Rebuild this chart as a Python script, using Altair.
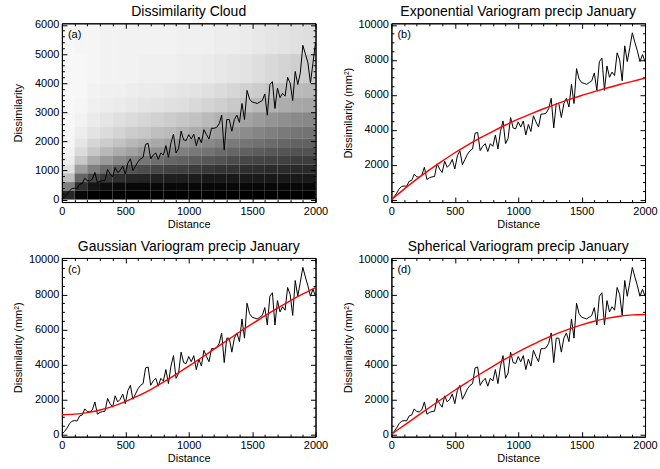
import altair as alt
import pandas as pd

FONT = "Liberation Sans"

# ---------------- data ----------------
lags = [0, 20, 40, 60, 80, 100, 120, 140, 160, 180,
        200, 220, 240, 260, 280, 300, 320, 340, 360, 380,
        400, 420, 440, 460, 480, 500, 520, 540, 560, 580,
        600, 620, 640, 660, 680, 700, 720, 740, 760, 780,
        800, 820, 840, 860, 880, 900, 920, 940, 960, 980,
        1000, 1020, 1040, 1060, 1080, 1100, 1120, 1140, 1160, 1180,
        1200, 1220, 1240, 1260, 1280, 1300, 1320, 1340, 1360, 1380,
        1400, 1420, 1440, 1460, 1480, 1500, 1520, 1540, 1560, 1580,
        1600, 1620, 1640, 1660, 1680, 1700, 1720, 1740, 1760, 1780,
        1800, 1820, 1840, 1860, 1880, 1900, 1920, 1940, 1960, 1980,
        2000]

# empirical variogram (panels b, c, d)
gamma_emp = [0, 150, 350, 600, 750, 780, 760, 1050, 1100, 1450,
             1300, 1280, 1400, 1850, 1150, 1250, 1300, 1320, 2050, 1750,
             1550, 2200, 1850, 2000, 2300, 1750, 2500, 2800, 2000, 2300,
             2600, 2800, 2900, 3800, 3850, 2800, 3050, 3200, 2750, 3200,
             3050, 3700, 2900, 3900, 4500, 3200, 3500, 4700, 4100, 4050,
             4450, 4150, 4500, 3700, 4300, 3900, 4800, 4450, 4150, 4900,
             4900, 4950, 5200, 5800, 4100, 5500, 5500, 4700, 5500, 5800,
             5300, 6600, 5500, 7500, 6900, 6700, 6650, 6600, 6700, 6800,
             7250, 6250, 7900, 8100, 6250, 7650, 7000, 7300, 7100, 8400,
             8000, 6800, 8800, 7900, 8700, 9550, 9000, 8500, 7900, 8300,
             7900]

# mean dissimilarity line drawn over the cloud (panel a)
gamma_cloud_mean = [0, 80, 180, 300, 380, 390, 380, 530, 550, 730,
                    650, 640, 700, 930, 580, 630, 650, 660, 1030, 880,
                    780, 1100, 930, 1000, 1150, 880, 1250, 1400, 1000, 1150,
                    1300, 1400, 1450, 1900, 1930, 1400, 1530, 1600, 1380, 1600,
                    1530, 1850, 1450, 1950, 2250, 1600, 1750, 2350, 2050, 2030,
                    2230, 2080, 2250, 1850, 2150, 1950, 2400, 2230, 2080, 2450,
                    2450, 2480, 2600, 2900, 1700, 2750, 2750, 2350, 2750, 2900,
                    2650, 3300, 2750, 3750, 3450, 3350, 3330, 3300, 3350, 3400,
                    3630, 2900, 3950, 4050, 3130, 3830, 3500, 3650, 3550, 4200,
                    4000, 3400, 4400, 3950, 4350, 5300, 5000, 4700, 4000, 4700,
                    5400]

# fitted model curves (red)
model_h = [0, 100, 200, 300, 400, 500, 600, 700, 800, 900, 1000,
           1100, 1200, 1300, 1400, 1500, 1600, 1700, 1800, 1900, 2000]
model_exp = [0, 600, 1170, 1700, 2200, 2680, 3120, 3530, 3910, 4270, 4600,
             4910, 5200, 5470, 5720, 5960, 6180, 6390, 6590, 6770, 6950]
model_gau = [1120, 1150, 1240, 1390, 1600, 1870, 2190, 2560, 2980, 3430, 3900,
             4380, 4870, 5360, 5850, 6320, 6780, 7220, 7640, 8030, 8400]
model_sph = [0, 510, 1020, 1530, 2030, 2520, 2990, 3450, 3890, 4310, 4710,
             5080, 5430, 5740, 6020, 6260, 6470, 6630, 6750, 6830, 6850]

# dissimilarity cloud, read as a density of dots per cell
cloud_x_edges = [0, 100, 200, 300, 400, 500, 600, 700, 800, 900, 1000,
                 1100, 1200, 1300, 1400, 1500, 1600, 1700, 1800, 1900, 2000]
cloud_y_edges = [0, 300, 600, 900, 1200, 1500, 1800, 2100, 2500, 3000, 3500, 4000, 5000, 6000]
cloud_density = [
    [0.85, 0.97, 1, 1, 1, 1, 1, 1, 1, 1, 1, 1, 1, 1, 1, 1, 1, 1, 1, 1],
    [0.5, 0.82, 0.92, 0.95, 0.96, 0.97, 0.97, 0.97, 0.97, 0.97, 0.97, 0.97, 0.97, 0.97, 0.97, 0.97, 0.97, 0.97, 0.97, 0.97],
    [0.25, 0.6, 0.72, 0.78, 0.82, 0.85, 0.86, 0.87, 0.88, 0.88, 0.89, 0.9, 0.9, 0.9, 0.9, 0.9, 0.9, 0.9, 0.9, 0.9],
    [0.12, 0.38, 0.5, 0.58, 0.64, 0.68, 0.7, 0.72, 0.74, 0.75, 0.77, 0.78, 0.8, 0.8, 0.82, 0.82, 0.83, 0.83, 0.84, 0.84],
    [0.07, 0.22, 0.33, 0.4, 0.46, 0.5, 0.54, 0.57, 0.6, 0.62, 0.64, 0.66, 0.68, 0.7, 0.72, 0.73, 0.74, 0.75, 0.76, 0.76],
    [0.05, 0.14, 0.22, 0.28, 0.33, 0.37, 0.41, 0.44, 0.47, 0.5, 0.53, 0.55, 0.58, 0.6, 0.62, 0.64, 0.66, 0.67, 0.68, 0.68],
    [0.04, 0.1, 0.16, 0.2, 0.24, 0.28, 0.31, 0.34, 0.37, 0.4, 0.43, 0.46, 0.49, 0.52, 0.54, 0.56, 0.58, 0.6, 0.61, 0.62],
    [0.03, 0.07, 0.11, 0.14, 0.17, 0.2, 0.22, 0.25, 0.27, 0.3, 0.33, 0.36, 0.39, 0.42, 0.45, 0.48, 0.5, 0.52, 0.54, 0.55],
    [0.03, 0.05, 0.08, 0.1, 0.12, 0.14, 0.16, 0.18, 0.2, 0.22, 0.24, 0.27, 0.3, 0.33, 0.36, 0.39, 0.42, 0.44, 0.46, 0.47],
    [0.03, 0.04, 0.06, 0.07, 0.08, 0.09, 0.1, 0.11, 0.12, 0.13, 0.15, 0.17, 0.19, 0.21, 0.24, 0.27, 0.3, 0.32, 0.34, 0.35],
    [0.03, 0.03, 0.05, 0.06, 0.06, 0.07, 0.08, 0.08, 0.09, 0.1, 0.11, 0.12, 0.14, 0.16, 0.18, 0.2, 0.23, 0.25, 0.27, 0.28],
    [0.03, 0.03, 0.04, 0.05, 0.05, 0.05, 0.06, 0.06, 0.06, 0.07, 0.07, 0.08, 0.09, 0.1, 0.11, 0.13, 0.15, 0.17, 0.19, 0.2],
    [0.03, 0.04, 0.04, 0.05, 0.05, 0.05, 0.05, 0.05, 0.05, 0.06, 0.06, 0.06, 0.07, 0.07, 0.08, 0.09, 0.1, 0.11, 0.12, 0.13],
]

titles = ["Dissimilarity Cloud",
          "Exponential Variogram precip January",
          "Gaussian Variogram precip January",
          "Spherical Variogram precip January"]
panel_tags = ["(a)", "(b)", "(c)", "(d)"]
y_titles = ["Dissimilarity", "Dissimilarity (mm\u00b2)"]

x_ticks = list(range(0, 2001, 100))
ya_ticks = list(range(0, 6001, 200))
yb_ticks = list(range(0, 10001, 500))

# ---------------- tables ----------------
df_emp = pd.DataFrame({"lag": lags, "gamma": gamma_emp})
df_mean = pd.DataFrame({"lag": lags, "gamma": gamma_cloud_mean})
df_model = pd.DataFrame({"h": model_h, "exp": model_exp, "gau": model_gau, "sph": model_sph})
rows = []
for i in range(len(cloud_y_edges) - 1):
    for j in range(len(cloud_x_edges) - 1):
        rows.append({"x0": cloud_x_edges[j], "x1": cloud_x_edges[j + 1],
                     "y0": cloud_y_edges[i], "y1": cloud_y_edges[i + 1],
                     "density": cloud_density[i][j]})
df_cloud = pd.DataFrame(rows)

W, H = 254, 179
xs = alt.Scale(domain=[0, 2000], nice=False, zero=False)
ys_a = alt.Scale(domain=[-85, 6055], nice=False, zero=False)
ys_b = alt.Scale(domain=[-140, 10090], nice=False, zero=False)


def xaxis(orient, show):
    d = dict(orient=orient, values=x_ticks, grid=False, domainColor="black", domainWidth=1,
             tickColor="black", tickWidth=1,
             tickSize=alt.ExprRef("datum.value % 500 === 0 ? -5 : -2.5"),
             labels=show, title=None)
    if show:
        d.update(format="d", labelExpr="datum.value % 500 === 0 ? datum.label : ''",
                 labelFont=FONT, labelFontSize=11, labelColor="black", labelPadding=8,
                 labelFlush=False, labelOverlap=False,
                 title="Distance", titleFont=FONT, titleFontSize=11, titleFontWeight="normal",
                 titleColor="black", titleY=16)
    return alt.Axis(**d)


def yaxis(orient, show, vals, major, title=None):
    d = dict(orient=orient, values=vals, grid=False, domainColor="black", domainWidth=1,
             tickColor="black", tickWidth=1,
             tickSize=alt.ExprRef(f"datum.value % {major} === 0 ? -5 : -2.5"),
             labels=show, title=None)
    if show:
        d.update(format="d", labelExpr=f"datum.value % {major} === 0 ? datum.label : ''",
                 labelFont=FONT, labelFontSize=11, labelColor="black", labelPadding=8,
                 labelFlush=False, labelOverlap=False,
                 title=title, titleFont=FONT, titleFontSize=11, titleFontWeight="normal",
                 titleColor="black", titleX=-38)
    return alt.Axis(**d)


def tag(i):
    return alt.Chart(pd.DataFrame({"tag": [panel_tags[i]]})).mark_text(
        align="left", baseline="middle", font=FONT, fontSize=11, color="black"
    ).encode(text="tag:N", x=alt.value(6), y=alt.value(12))


def ptitle(i):
    return alt.TitleParams(titles[i], font=FONT, fontSize=14, fontWeight="normal",
                           color="black", anchor="middle", frame="group", offset=0)


# panel (a)
cloud = alt.Chart(df_cloud).mark_rect(color="black", strokeWidth=0).encode(
    x=alt.X("x0:Q", scale=xs, axis=xaxis("bottom", True)),
    x2="x1",
    y=alt.Y("y0:Q", scale=ys_a, axis=yaxis("left", True, ya_ticks, 1000, y_titles[0])),
    y2="y1",
    opacity=alt.Opacity("density:Q", scale=None, legend=None),
)
line_a = alt.Chart(df_mean).mark_line(color="black", strokeWidth=1).encode(
    x=alt.X("lag:Q", scale=xs, axis=xaxis("top", False)),
    y=alt.Y("gamma:Q", scale=ys_a, axis=yaxis("right", False, ya_ticks, 1000)),
)
pa = alt.layer(cloud, line_a, tag(0)).resolve_axis(x="independent", y="independent").properties(
    width=W, height=H, title=ptitle(0))


def vpanel(i, col):
    emp = alt.Chart(df_emp).mark_line(color="black", strokeWidth=1).encode(
        x=alt.X("lag:Q", scale=xs, axis=xaxis("bottom", True)),
        y=alt.Y("gamma:Q", scale=ys_b, axis=yaxis("left", True, yb_ticks, 2000, y_titles[1])),
    )
    mod = alt.Chart(df_model).mark_line(color="#ff0000", strokeWidth=1.4, interpolate="monotone").encode(
        x=alt.X("h:Q", scale=xs, axis=xaxis("top", False)),
        y=alt.Y(f"{col}:Q", scale=ys_b, axis=yaxis("right", False, yb_ticks, 2000)),
    )
    return alt.layer(emp, mod, tag(i)).resolve_axis(x="independent", y="independent").properties(
        width=W, height=H, title=ptitle(i))


pb = vpanel(1, "exp")
pc = vpanel(2, "gau")
pd_ = vpanel(3, "sph")

chart = alt.concat(
    pa, pb, pc, pd_, columns=2, spacing={"row": 56, "column": 76}, bounds="flush",
).properties(
    padding={"left": 12, "top": 4, "right": 2, "bottom": 2},
    background="white",
).configure_view(stroke="black", strokeWidth=1)

chart.save("out.html", embed_options={"renderer": "svg", "actions": False})
